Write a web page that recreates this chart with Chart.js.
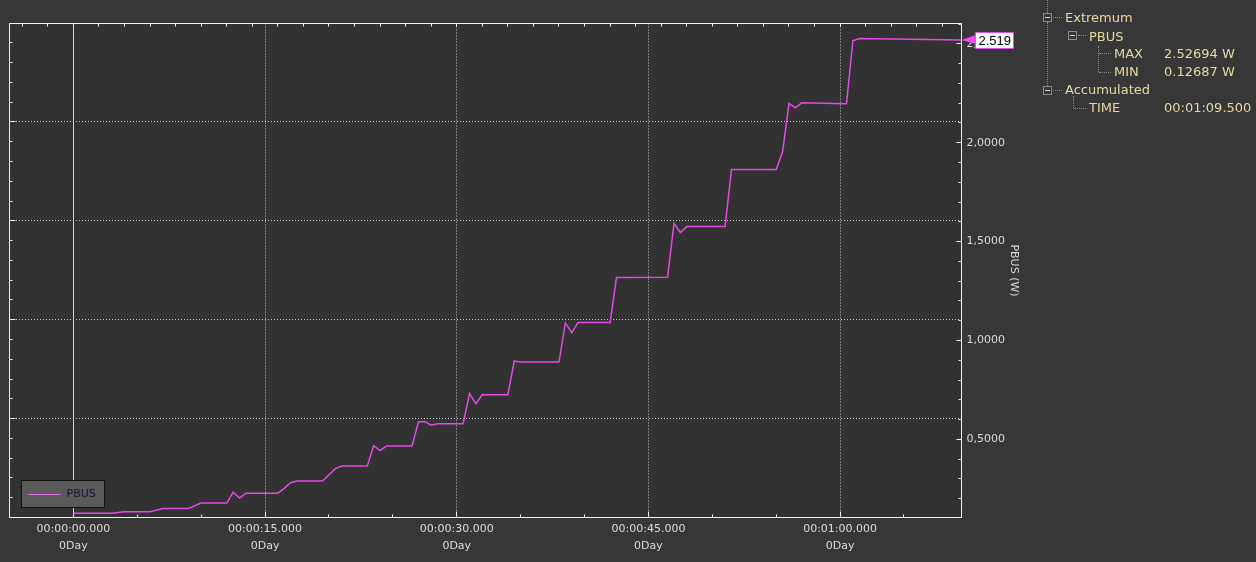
<!DOCTYPE html>
<html>
<head>
<meta charset="utf-8">
<script src="https://cdn.jsdelivr.net/npm/chart.js@4.4.0/dist/chart.umd.min.js"></script>
<style>
html,body{margin:0;padding:0;background:#373737;overflow:hidden;}
#wrap{position:relative;width:1256px;height:562px;}
canvas{position:absolute;left:0;top:0;}
.tree{position:absolute;font-family:"DejaVu Sans";font-size:13px;color:#e6daa2;white-space:nowrap;line-height:16px;}
.vl{position:absolute;width:0;border-left:1px dotted #8c8c8c;}
.hl{position:absolute;height:0;border-top:1px dotted #8c8c8c;}
.bx{position:absolute;width:7px;height:7px;border:1px solid #8c8c8c;background:#353535;}
.bx:after{content:"";position:absolute;left:1px;top:3px;width:5px;height:1px;background:#d8d8d8;}
</style>
</head>
<body>
<div id="wrap">
<canvas id="c" width="1256" height="562"></canvas>
<div class="vl" style="left:1047px;top:0;height:13px"></div>
<div class="bx" style="left:1043px;top:13px"></div>
<div class="hl" style="left:1053px;top:17px;width:9px"></div>
<div class="tree" style="left:1065px;top:10px">Extremum</div>
<div class="vl" style="left:1047px;top:22px;height:64px"></div>
<div class="bx" style="left:1068px;top:31px"></div>
<div class="hl" style="left:1078px;top:35px;width:8px"></div>
<div class="tree" id="tSeries" style="left:1089px;top:29px"></div>
<div class="vl" style="left:1098px;top:46px;height:26px"></div>
<div class="hl" style="left:1099px;top:53px;width:12px"></div>
<div class="hl" style="left:1099px;top:72px;width:12px"></div>
<div class="tree" style="left:1114px;top:46px">MAX</div>
<div class="tree" id="tMax" style="left:1164px;top:46px"></div>
<div class="tree" style="left:1114px;top:64px">MIN</div>
<div class="tree" id="tMin" style="left:1164px;top:64px"></div>
<div class="bx" style="left:1043px;top:86px"></div>
<div class="hl" style="left:1053px;top:90px;width:9px"></div>
<div class="tree" style="left:1065px;top:82px">Accumulated</div>
<div class="vl" style="left:1073px;top:96px;height:12px"></div>
<div class="hl" style="left:1074px;top:108px;width:12px"></div>
<div class="tree" style="left:1089px;top:100px">TIME</div>
<div class="tree" id="tTime" style="left:1164px;top:100px"></div>
</div>
<script>
// ---- data ----
const seriesName = 'PBUS';
const unit = 'W';
const times = [0, 3, 4, 6, 7, 9, 10, 12, 12.5, 13, 13.5, 16, 16.5, 17, 17.5, 19.5, 20.5, 21, 23, 23.5, 24, 24.5,
  26.5, 27, 27.5, 28, 28.5, 30.5, 31, 31.5, 32, 34, 34.5, 35, 38, 38.5, 39, 39.5, 42, 42.5, 46.5, 47, 47.5, 48,
  51, 51.5, 55, 55.5, 56, 56.5, 57, 60.5, 61, 61.5, 69.5];
const values = [0.12687, 0.127, 0.134, 0.134, 0.151, 0.151, 0.178, 0.178, 0.233, 0.203, 0.228, 0.228, 0.252, 0.281,
  0.289, 0.289, 0.352, 0.365, 0.365, 0.468, 0.443, 0.466, 0.466, 0.588, 0.590, 0.572, 0.579, 0.579, 0.731, 0.681,
  0.726, 0.726, 0.896, 0.891, 0.891, 1.089, 1.040, 1.091, 1.091, 1.318, 1.320, 1.592, 1.546, 1.576, 1.576, 1.865,
  1.865, 1.954, 2.199, 2.177, 2.202, 2.197, 2.516, 2.52694, 2.519];
const xMin = -5, xMax = 69.5;
const yMin = 0.105, yMax = 2.603;
const xLabelTimes = [0, 15, 30, 45, 60];
const xLabelText = ['00:00:00.000', '00:00:15.000', '00:00:30.000', '00:00:45.000', '00:01:00.000'];
const dayText = '0Day';
const yLabelValues = [0.5, 1.0, 1.5, 2.0, 2.5];
const yLabelText = ['0,5000', '1,0000', '1,5000', '2,0000', '2,5000'];
const yGridValues = [yMin + 0.5, yMin + 1.0, yMin + 1.5, yMin + 2.0];
const cursorTime = 0;
const axisTitle = 'PBUS (W)';
const totalTimeText = '00:01:09.500';

document.getElementById('tSeries').textContent = seriesName;
document.getElementById('tMax').textContent = Math.max(...values).toFixed(5) + ' ' + unit;
document.getElementById('tMin').textContent = Math.min(...values).toFixed(5) + ' ' + unit;
document.getElementById('tTime').textContent = totalTimeText;

const LINE = '#e44ae4';
const GRID = '#cdcdcd';
const FRAME = '#f0f0f0';

const deco = {
  id: 'deco',
  beforeDraw(chart) {
    const {ctx, chartArea: a} = chart;
    ctx.save();
    ctx.fillStyle = '#373737';
    ctx.fillRect(0, 0, chart.width, chart.height);
    ctx.fillStyle = '#323232';
    ctx.fillRect(a.left, a.top, a.right - a.left, a.bottom - a.top);
    ctx.restore();
  },
  beforeDatasetsDraw(chart) {
    const {ctx, chartArea: a, scales} = chart;
    const x = scales.x, y = scales.y, yL = scales.yL;
    const L = Math.floor(a.left) + 0.5, R = Math.floor(a.right) + 0.5;
    const T = Math.floor(a.top) + 0.5, B = Math.floor(a.bottom) + 0.5;
    ctx.save();
    ctx.lineWidth = 1;
    // cursor line
    const cx = Math.floor(x.getPixelForValue(cursorTime)) + 0.5;
    ctx.strokeStyle = '#cfcfcf';
    ctx.beginPath(); ctx.moveTo(cx, T); ctx.lineTo(cx, B); ctx.stroke();
    // frame
    ctx.strokeStyle = FRAME;
    ctx.strokeRect(L, T, R - L, B - T);
    ctx.beginPath();
    // bottom ticks every 5 s
    for (let t = -5; t <= 65; t += 5) {
      const px = Math.floor(x.getPixelForValue(t)) + 0.5;
      const len = (t % 15 === 0) ? 6 : 3;
      ctx.moveTo(px, B); ctx.lineTo(px, B - len);
    }
    // top ticks every 2 s
    for (let t = -4; t <= 68; t += 2) {
      const px = Math.floor(x.getPixelForValue(t)) + 0.5;
      ctx.moveTo(px, T); ctx.lineTo(px, T + 3);
    }
    // left ticks every 0.1 from min
    for (let k = 1; k <= 24; k++) {
      const py = Math.floor(yL.getPixelForValue(yMin + k * 0.1)) + 0.5;
      const len = (k % 5 === 0) ? 6 : 3;
      ctx.moveTo(L, py); ctx.lineTo(L + len, py);
    }
    // right ticks every 0.1
    for (let k = 2; k <= 26; k++) {
      const py = Math.floor(y.getPixelForValue(k / 10)) + 0.5;
      const len = (k % 5 === 0) ? 5 : 3;
      ctx.moveTo(R, py); ctx.lineTo(R - len, py);
    }
    ctx.stroke();
    ctx.restore();
  },
  afterDraw(chart) {
    const {ctx, chartArea: a, scales} = chart;
    const y = scales.y;
    const last = values[values.length - 1];
    const py = y.getPixelForValue(last);
    ctx.save();
    // arrow
    ctx.fillStyle = '#ee4cee';
    ctx.beginPath();
    ctx.moveTo(a.right, py);
    ctx.lineTo(a.right + 14, py - 5);
    ctx.lineTo(a.right + 14, py + 4);
    ctx.closePath(); ctx.fill();
    // value box
    const bx = Math.floor(a.right) + 14.5, by = Math.floor(py) - 7.5;
    ctx.fillStyle = '#ffffff';
    ctx.fillRect(bx, by, 38, 16);
    ctx.strokeStyle = '#e050e0';
    ctx.lineWidth = 1;
    ctx.strokeRect(bx, by, 38, 16);
    ctx.fillStyle = '#000000';
    ctx.font = '13px "Liberation Sans"';
    ctx.textBaseline = 'middle';
    ctx.textAlign = 'left';
    ctx.fillText(last.toFixed(3), bx + 3, by + 8.5);
    // legend box
    const lx = Math.floor(a.left) + 12.5, ly = Math.floor(a.bottom) - 36.5;
    ctx.fillStyle = '#5a5a5a';
    ctx.fillRect(lx, ly, 83, 27);
    ctx.strokeStyle = '#101010';
    ctx.strokeRect(lx, ly, 83, 27);
    ctx.strokeStyle = '#e070e0';
    ctx.beginPath();
    ctx.moveTo(lx + 7, ly + 14); ctx.lineTo(lx + 39, ly + 14);
    ctx.stroke();
    ctx.fillStyle = '#1c1230';
    ctx.font = '11px "DejaVu Sans"';
    ctx.fillText(chart.data.datasets[0].label, lx + 45, ly + 14);
    ctx.restore();
  }
};

new Chart(document.getElementById('c'), {
  type: 'line',
  data: {
    datasets: [{
      label: seriesName,
      data: times.map((t, i) => ({x: t, y: values[i]})),
      borderColor: LINE,
      borderWidth: 1.5,
      pointRadius: 0,
      tension: 0,
      fill: false,
      xAxisID: 'x',
      yAxisID: 'y'
    }]
  },
  options: {
    responsive: false,
    animation: false,
    devicePixelRatio: 1,
    layout: {padding: {left: 9.5, top: 23.5, right: 231.8, bottom: 0}},
    plugins: {legend: {display: false}, tooltip: {enabled: false}},
    scales: {
      x: {
        type: 'linear', position: 'bottom', min: xMin, max: xMax,
        afterBuildTicks: s => { s.ticks = xLabelTimes.map(v => ({value: v})); },
        afterFit: s => { s.height = 44.5; },
        grid: {
          color: c => (c.tick && c.tick.value !== cursorTime) ? GRID : 'rgba(0,0,0,0)',
          lineWidth: 1, drawTicks: false
        },
        border: {display: false, dash: [1, 2]},
        ticks: {
          autoSkip: false, maxRotation: 0, minRotation: 0, padding: 3, color: '#dcdcdc',
          font: {family: 'DejaVu Sans', size: 11, lineHeight: '17px'},
          callback: v => {
            const i = xLabelTimes.indexOf(v);
            return i >= 0 ? [xLabelText[i], dayText] : '';
          }
        }
      },
      y: {
        type: 'linear', position: 'right', min: yMin, max: yMax,
        afterBuildTicks: s => { s.ticks = yLabelValues.map(v => ({value: v})); },
        afterFit: s => { s.width = 62.7; },
        grid: {display: false, drawTicks: false},
        border: {display: false},
        ticks: {
          padding: 5, color: '#dcdcdc',
          font: {family: 'DejaVu Sans', size: 11},
          callback: v => {
            const i = yLabelValues.findIndex(u => Math.abs(u - v) < 1e-9);
            return i >= 0 ? yLabelText[i] : '';
          }
        },
        title: {
          display: true, text: axisTitle, color: '#dcdcdc',
          font: {family: 'DejaVu Sans', size: 11},
          padding: {top: 4, bottom: 0}
        }
      },
      yL: {
        type: 'linear', position: 'left', min: yMin, max: yMax,
        afterBuildTicks: s => { s.ticks = yGridValues.map(v => ({value: v})); },
        afterFit: s => { s.width = 0; },
        grid: {color: GRID, lineWidth: 1, drawTicks: false},
        border: {display: false, dash: [1, 2]},
        ticks: {display: false}
      }
    }
  },
  plugins: [deco]
});
</script>
</body>
</html>
